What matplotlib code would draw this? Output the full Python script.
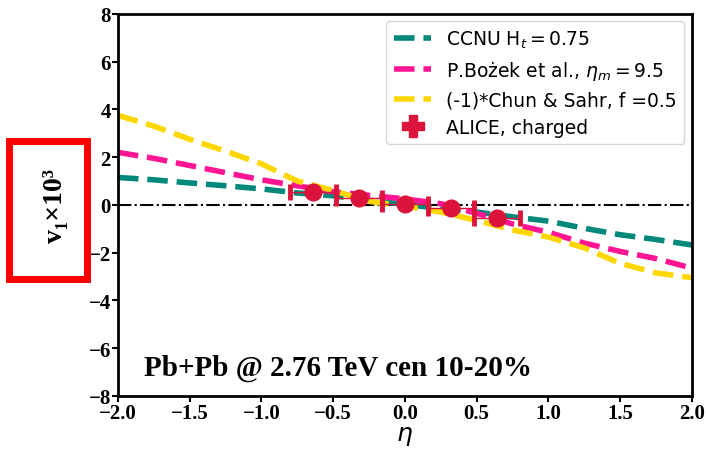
import matplotlib.pyplot as plt
from matplotlib.lines import Line2D
from matplotlib.patches import Rectangle

# model curves, v1 x 10^3 vs eta
eta = [-2.0, -1.75, -1.5, -1.25, -1.0, -0.75, -0.5, -0.25, 0.0,
       0.25, 0.5, 0.75, 1.0, 1.25, 1.5, 1.75, 2.0]
ccnu = [1.15, 1.05, 0.92, 0.80, 0.67, 0.50, 0.38, 0.20, 0.02,
        -0.15, -0.30, -0.50, -0.68, -0.98, -1.25, -1.45, -1.68]
bozek = [2.20, 1.95, 1.65, 1.35, 1.05, 0.80, 0.55, 0.40, 0.25,
         0.05, -0.35, -0.80, -1.15, -1.60, -1.95, -2.25, -2.65]
chun = [3.75, 3.30, 2.75, 2.25, 1.72, 1.00, 0.60, 0.15, -0.05,
        -0.30, -0.65, -1.05, -1.35, -1.80, -2.45, -2.85, -3.05]

# ALICE charged hadrons
alice_eta = [-0.64, -0.32, 0.0, 0.32, 0.64]
alice_v1 = [0.55, 0.27, 0.02, -0.15, -0.55]
alice_xerr = [0.16, 0.16, 0.16, 0.16, 0.16]

fig = plt.figure(figsize=(7.06, 4.52), dpi=100)
ax = fig.add_axes([0.167, 0.122, 0.813, 0.845])

ax.axhline(0, color='black', lw=1.5, ls='-.', zorder=1)
ax.plot(eta, ccnu, ls='--', lw=4, color='#00897B', zorder=2)
ax.plot(eta, bozek, ls='--', lw=4, color='#FF1493', zorder=2)
ax.plot(eta, chun, ls='--', lw=4, color='#FFD700', zorder=2)
ax.errorbar(alice_eta, alice_v1, xerr=alice_xerr, fmt='o', ms=12,
            color='#DC143C', elinewidth=1, capsize=6, capthick=3.5, zorder=3)

ax.set_xlim(-2, 2)
ax.set_ylim(-8, 8)
ax.set_xticks([-2.0, -1.5, -1.0, -0.5, 0.0, 0.5, 1.0, 1.5, 2.0])
ax.set_yticks([-8, -6, -4, -2, 0, 2, 4, 6, 8])
for lab in ax.get_xticklabels() + ax.get_yticklabels():
    lab.set_family('Liberation Serif')
    lab.set_fontweight('bold')
    lab.set_fontsize(15)
ax.tick_params(width=1.5, length=4, pad=1)
for sp in ax.spines.values():
    sp.set_linewidth(2)

ax.set_xlabel(r'$\eta$', fontsize=18, labelpad=0)
ax.set_ylabel('v₁×10³', fontsize=20, labelpad=15,
              family='Liberation Serif', fontweight='bold')

ax.text(-1.82, -6.8, 'Pb+Pb @ 2.76 TeV cen 10-20%', family='Liberation Serif',
        fontweight='bold', fontsize=21, va='center')

handles = [
    Line2D([], [], ls='--', lw=4, color='#00897B'),
    Line2D([], [], ls='--', lw=4, color='#FF1493'),
    Line2D([], [], ls='--', lw=4, color='#FFD700'),
    Line2D([], [], ls='none', marker='P', ms=16, color='#DC143C'),
]
labels = [r'CCNU H$_t = 0.75$', r'P.Bożek et al., $\eta_m = 9.5$',
          '(-1)*Chun & Sahr, f =0.5', 'ALICE, charged']
ax.legend(handles, labels, loc='upper right', fontsize=13.5, handlelength=2,
          borderaxespad=0.4, labelspacing=0.45)

# red highlight box around the y label
fig.add_artist(Rectangle((0.013, 0.38), 0.11, 0.305, transform=fig.transFigure,
                         fill=False, edgecolor='red', lw=5))

fig.savefig('out.png', dpi=100)
